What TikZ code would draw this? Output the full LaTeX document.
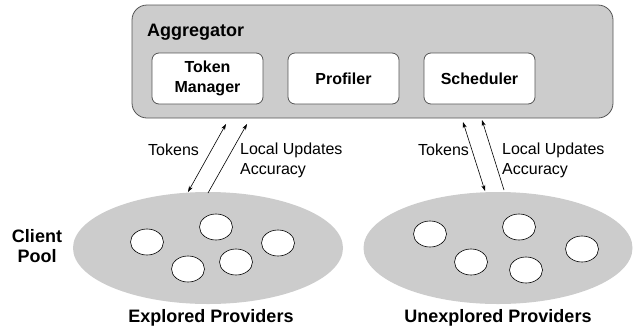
\documentclass[tikz,border=0pt]{standalone}
\usepackage{fontspec}
\setmainfont{Liberation Sans}
\usetikzlibrary{arrows.meta,shapes.geometric}
\definecolor{poolgray}{HTML}{CCCCCC}
\definecolor{edgegray}{HTML}{555555}
\begin{document}
\begin{tikzpicture}[x=1pt,y=-1pt,
  aggbox/.style={draw=edgegray,line width=0.8pt,fill=poolgray,rounded corners=15pt},
  modbox/.style={draw=edgegray,line width=0.8pt,fill=white,rounded corners=7pt,minimum width=111pt,minimum height=51pt,inner sep=0pt,align=center,font=\fontsize{16}{20}\selectfont\bfseries},
  pool/.style={ellipse,fill=poolgray,inner sep=0pt},
  member/.style={draw=black,line width=0.6pt,fill=white,ellipse,minimum width=33pt,minimum height=26pt,inner sep=0pt},
  biglabel/.style={font=\fontsize{18}{20}\selectfont\bfseries,inner sep=0pt,align=center},
  flowlabel/.style={font=\fontsize{16}{20}\selectfont,inner sep=0pt,align=left},
  flow/.style={line width=0.6pt,-{Stealth[length=6pt,width=4pt]}},
  flowboth/.style={line width=0.6pt,{Stealth[length=6pt,width=4pt]}-{Stealth[length=6pt,width=4pt]}}
]
\useasboundingbox (0,0) rectangle (634,333);
% aggregator
\draw[aggbox] (132,5) rectangle (613,118);
\node[biglabel,anchor=west] (agg) at (147,32) {Aggregator};
\node[modbox] (tm) at (207.5,78.5) {Token\\Manager};
\node[modbox] (prof) at (343.5,78.5) {Profiler};
\node[modbox] (sched) at (479.5,78.5) {Scheduler};
% pools
\node[pool,minimum width=270pt,minimum height=112pt] (lpool) at (208,248) {};
\node[pool,minimum width=269pt,minimum height=112pt] (rpool) at (498,248) {};
% members left
\node[member] (l1) at (147,242) {};
\node[member] (l2) at (216,227) {};
\node[member] (l3) at (278,243) {};
\node[member] (l4) at (188,269) {};
\node[member] (l5) at (236,262) {};
% members right
\node[member] (r1) at (430,234) {};
\node[member] (r2) at (519,227) {};
\node[member] (r3) at (582,249) {};
\node[member] (r4) at (471,262) {};
\node[member] (r5) at (526,270) {};
% arrow endpoints
\coordinate (la1) at (188,192);
\coordinate (la2) at (226,124);
\coordinate (lb1) at (208,193);
\coordinate (lb2) at (247,124);
\coordinate (ra1) at (485,191);
\coordinate (ra2) at (463,122);
\coordinate (rb1) at (504,190);
\coordinate (rb2) at (482,120);
\draw[flowboth] (la1) -- (la2);
\draw[flow] (lb1) -- (lb2);
\draw[flowboth] (ra1) -- (ra2);
\draw[flow] (rb1) -- (rb2);
% labels
\node[flowlabel,anchor=west] (ltok) at (148,150) {Tokens};
\node[flowlabel,anchor=north west] (lupd) at (240,143) {Local Updates\\Accuracy};
\node[flowlabel,anchor=west] (rtok) at (418,150) {Tokens};
\node[flowlabel,anchor=north west] (rupd) at (502,143) {Local Updates\\Accuracy};
\node[biglabel] (client) at (37,246) {Client\\Pool};
\node[biglabel] (expl) at (211,318) {Explored Providers};
\node[biglabel] (unexpl) at (498,318) {Unexplored Providers};
\end{tikzpicture}
\end{document}
